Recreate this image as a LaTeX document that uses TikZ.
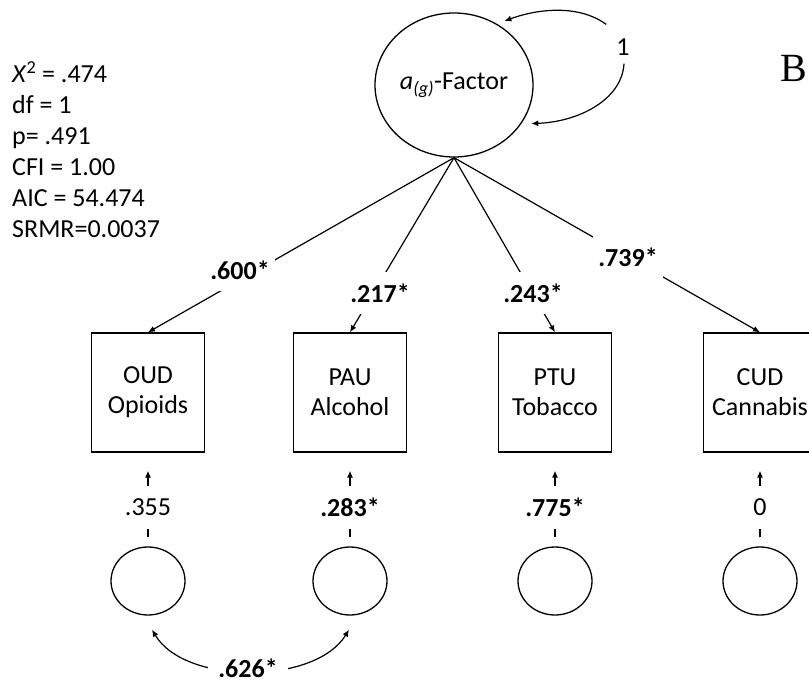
\documentclass[tikz,border=0pt]{standalone}
\usepackage{fontspec}
\setmainfont{Carlito}
\newfontfamily\serifB{Liberation Serif}
\usetikzlibrary{arrows.meta,shapes.geometric,calc}
\begin{document}
\begin{tikzpicture}[x=1pt,y=-1pt,
  every node/.style={font=\fontsize{26}{30}\selectfont},
  boldlbl/.style={font=\fontsize{26}{30}\selectfont\bfseries},
  box/.style={draw, line width=1.3pt, minimum width=113pt, minimum height=119pt, align=center, inner sep=0pt},
  err/.style={draw, ellipse, line width=1.3pt, minimum width=74pt, minimum height=68pt, inner sep=0pt},
  lbl/.style={fill=white, inner xsep=5pt, inner ysep=12pt},
  vlbl/.style={fill=white, inner xsep=3pt, inner ysep=0pt, minimum height=43pt},
  conn/.style={line width=1.2pt, -{Latex[length=7pt,width=6pt]}},
  dconn/.style={line width=1.2pt, {Latex[length=7pt,width=6pt]}-{Latex[length=7pt,width=6pt]}},
]
\useasboundingbox (0,0) rectangle (809,683);

% fit statistics
\node[anchor=north west, align=left, inner sep=0pt, font=\fontsize{26}{31}\selectfont] (stats) at (12,61)
  {\textit{X}\textsuperscript{2} = .474\\ df = 1\\ p= .491\\ CFI = 1.00\\ AIC = 54.474\\ SRMR=0.0037};

% panel letter
\node[font=\serifB\fontsize{40}{40}\selectfont, inner sep=0pt] (B) at (794,68) {B};

% factor
\node[draw, ellipse, line width=1.3pt, minimum width=158pt, minimum height=144pt, inner sep=0pt] (F) at (454,85)
  {{\itshape a\textsubscript{(g)}}-Factor};
\node[inner sep=0pt] (one) at (623,47) {1};
\draw[conn, shorten >=8pt] ([shift={(-10pt,14pt)}]one.north west) .. controls (580,5) and (540,8) .. (F.55);
\draw[conn, shorten >=10pt] ([shift={(1pt,-8pt)}]one.south) .. controls (622,100) and (578,122) .. (F.-30);

% indicators
\node[box] (oud) at (148,392.5) {OUD\\Opioids};
\node[box] (pau) at (350,392.5) {PAU\\Alcohol};
\node[box] (ptu) at (555,392.5) {PTU\\Tobacco};
\node[box] (cud) at (760,392.5) {CUD\\Cannabis};

% residual circles
\node[err] (e1) at (148,581) {};
\node[err] (e2) at (350,581) {};
\node[err] (e3) at (555,581) {};
\node[err] (e4) at (760,581) {};

% loadings
\draw[conn] (F.south) -- (oud.north);
\draw[conn] (F.south) -- (pau.north);
\draw[conn] (F.south) -- (ptu.north);
\draw[conn] (F.south) -- (cud.north);
\node[lbl, boldlbl] (l1) at (240,270) {.600*};
\node[lbl, boldlbl] (l2) at (380,293) {.217*};
\node[lbl, boldlbl] (l3) at (533,293) {.243*};
\node[lbl, boldlbl] (l4) at (628,257) {.739*};

% residual paths
\draw[conn, shorten <=9pt, shorten >=18pt] (e1) -- (oud);
\draw[conn, shorten <=9pt, shorten >=18pt] (e2) -- (pau);
\draw[conn, shorten <=9pt, shorten >=18pt] (e3) -- (ptu);
\draw[conn, shorten <=9pt, shorten >=18pt] (e4) -- (cud);
\node[vlbl] (r1) at (148,507) {.355};
\node[vlbl, boldlbl] (r2) at (350,507) {.283*};
\node[vlbl, boldlbl] (r3) at (555,507) {.775*};
\node[vlbl] (r4) at (760,507) {0};

% residual covariance
\draw[dconn] ([shift={(4pt,-14pt)}]e1.south) .. controls (185,685) and (315,685) .. ([shift={(-1pt,-14pt)}]e2.south);
\node[fill=white, inner xsep=10pt, inner ysep=3pt, boldlbl] (cov) at (248,668) {.626*};
\end{tikzpicture}
\end{document}
